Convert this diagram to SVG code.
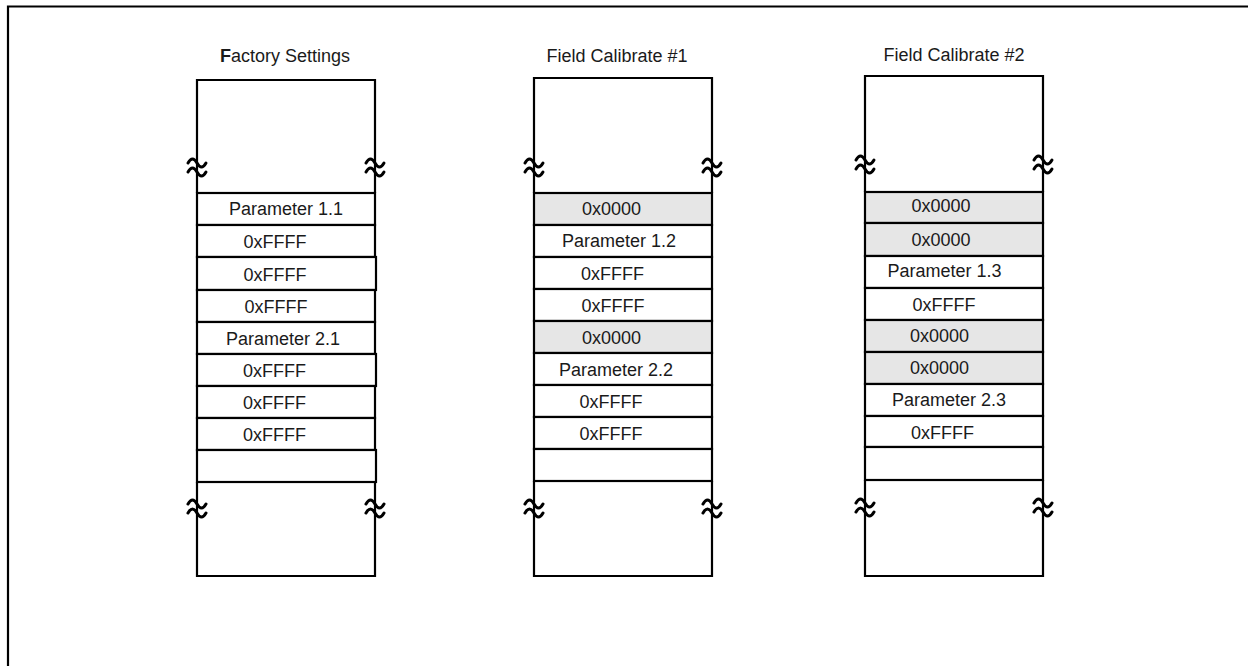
<svg xmlns="http://www.w3.org/2000/svg" width="1248" height="666" viewBox="0 0 1248 666">
<style>
text{font-family:"Liberation Sans",Arial,sans-serif;font-size:18px;fill:#1a1a1a;text-anchor:middle}
.ln{stroke:#000;stroke-width:2.2;fill:none}
.cell{stroke:#000;stroke-width:2.2;fill:#fff}
.g{fill:#e6e6e6}
.sq{stroke:#000;stroke-width:3;fill:none;stroke-linecap:round}
</style>
<defs>
<g id="brk"><path class="sq" d="M-9,-3 q4.5,-8 9,0 t9,0 M-9,6 q4.5,-8 9,0 t9,0"/></g>
</defs>
<rect width="1248" height="666" fill="#fff"/>
<path class="ln" d="M8,666 V6.5 H1248"/>

<g id="factory">
<text x="285" y="62"><tspan font-weight="bold">F</tspan>actory Settings</text>
<path class="ln" d="M197,193 V80 H375 V193"/>
<path class="ln" d="M197,482 V576 H375 V482"/>
<use href="#brk" x="197" y="166"/><use href="#brk" x="375" y="166"/>
<use href="#brk" x="197" y="507"/><use href="#brk" x="375" y="507"/>
<g id="f1"><rect class="cell" x="197" y="193" width="178" height="32"/><text x="286" y="215">Parameter 1.1</text></g>
<g id="f2"><rect class="cell" x="197" y="225" width="178" height="32"/><text x="275" y="248">0xFFFF</text></g>
<g id="f3"><rect class="cell" x="197" y="257" width="179" height="33"/><text x="275" y="281">0xFFFF</text></g>
<g id="f4"><rect class="cell" x="197" y="290" width="178" height="32"/><text x="276" y="313">0xFFFF</text></g>
<g id="f5"><rect class="cell" x="197" y="322" width="178" height="32"/><text x="283" y="345">Parameter 2.1</text></g>
<g id="f6"><rect class="cell" x="197" y="354" width="179" height="32"/><text x="274.5" y="377">0xFFFF</text></g>
<g id="f7"><rect class="cell" x="197" y="386" width="178" height="32"/><text x="274.5" y="409">0xFFFF</text></g>
<g id="f8"><rect class="cell" x="197" y="418" width="178" height="32"/><text x="274.5" y="441">0xFFFF</text></g>
<g id="f9"><rect class="cell" x="197" y="450" width="179" height="32"/></g>
</g>

<g id="cal1">
<text x="617" y="62">Field Calibrate #1</text>
<path class="ln" d="M534,193 V78 H712 V193"/>
<path class="ln" d="M534,481 V576 H712 V481"/>
<use href="#brk" x="534" y="166"/><use href="#brk" x="712" y="166"/>
<use href="#brk" x="534" y="507"/><use href="#brk" x="712" y="507"/>
<g id="c1r1"><rect class="cell g" x="534" y="193" width="178" height="32"/><text x="611.5" y="215">0x0000</text></g>
<g id="c1r2"><rect class="cell" x="534" y="225" width="178" height="32"/><text x="619" y="247">Parameter 1.2</text></g>
<g id="c1r3"><rect class="cell" x="534" y="257" width="178" height="32"/><text x="612.5" y="280">0xFFFF</text></g>
<g id="c1r4"><rect class="cell" x="534" y="289" width="178" height="32"/><text x="613" y="312">0xFFFF</text></g>
<g id="c1r5"><rect class="cell g" x="534" y="321" width="178" height="32"/><text x="611.5" y="344">0x0000</text></g>
<g id="c1r6"><rect class="cell" x="534" y="353" width="178" height="32"/><text x="616" y="376">Parameter 2.2</text></g>
<g id="c1r7"><rect class="cell" x="534" y="385" width="178" height="32"/><text x="611" y="408">0xFFFF</text></g>
<g id="c1r8"><rect class="cell" x="534" y="417" width="178" height="32"/><text x="611" y="440">0xFFFF</text></g>
<g id="c1r9"><rect class="cell" x="534" y="449" width="178" height="32"/></g>
</g>

<g id="cal2">
<text x="954" y="61">Field Calibrate #2</text>
<path class="ln" d="M865,192 V76 H1043 V192"/>
<path class="ln" d="M865,480 V576 H1043 V480"/>
<use href="#brk" x="865" y="163"/><use href="#brk" x="1043" y="163"/>
<use href="#brk" x="865" y="506"/><use href="#brk" x="1043" y="506"/>
<g id="c2r1"><rect class="cell g" x="865" y="192" width="178" height="31"/><text x="941" y="212">0x0000</text></g>
<g id="c2r2"><rect class="cell g" x="865" y="223" width="178" height="33"/><text x="941" y="246">0x0000</text></g>
<g id="c2r3"><rect class="cell" x="865" y="256" width="178" height="32"/><text x="944.5" y="277">Parameter 1.3</text></g>
<g id="c2r4"><rect class="cell" x="865" y="288" width="178" height="32"/><text x="944" y="311">0xFFFF</text></g>
<g id="c2r5"><rect class="cell g" x="865" y="320" width="178" height="32"/><text x="939.5" y="342">0x0000</text></g>
<g id="c2r6"><rect class="cell g" x="865" y="352" width="178" height="32"/><text x="939.5" y="374">0x0000</text></g>
<g id="c2r7"><rect class="cell" x="865" y="384" width="178" height="32"/><text x="949" y="406">Parameter 2.3</text></g>
<g id="c2r8"><rect class="cell" x="865" y="416" width="178" height="31"/><text x="942.5" y="439">0xFFFF</text></g>
<g id="c2r9"><rect class="cell" x="865" y="447" width="178" height="33"/></g>
</g>
</svg>
